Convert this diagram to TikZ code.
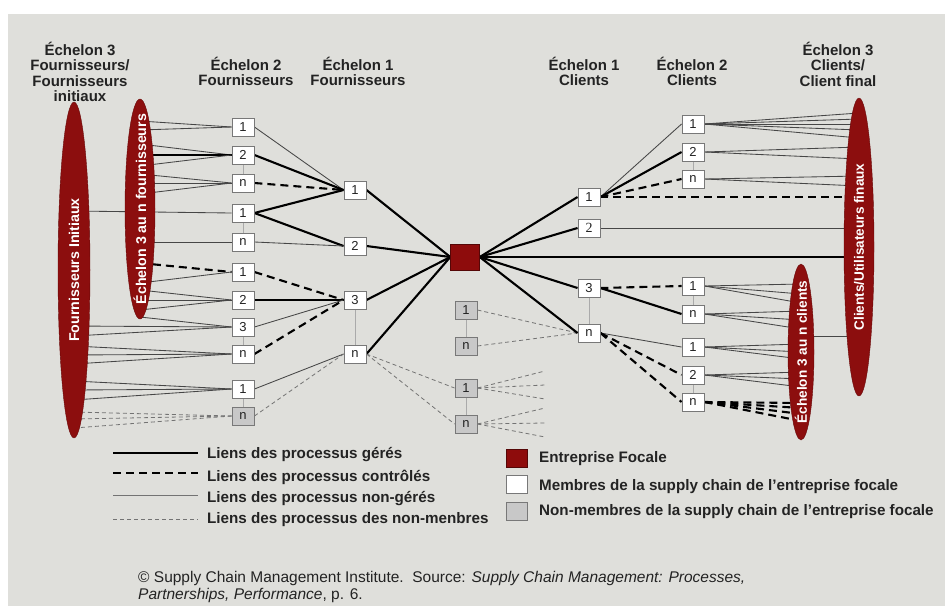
\documentclass[tikz,border=0pt]{standalone}
\usepackage{fontspec}
\setmainfont{Liberation Sans}
\newfontfamily\serifnum{Liberation Serif}
\usetikzlibrary{shapes.geometric}
\pgfdeclarelayer{back}
\pgfdeclarelayer{links}
\pgfsetlayers{back,links,main}
\definecolor{paper}{RGB}{223,223,219}
\definecolor{blobred}{RGB}{140,14,14}
\definecolor{focalred}{RGB}{142,12,12}
\definecolor{boxline}{RGB}{120,120,120}
\definecolor{boxgrey}{RGB}{200,200,200}
\definecolor{thinline}{RGB}{70,70,70}
\definecolor{nmline}{RGB}{115,115,115}
\definecolor{vline}{RGB}{170,170,170}
\definecolor{ink}{RGB}{35,35,35}
\begin{document}
\begin{tikzpicture}[x=1pt,y=-1pt,
  box/.style={draw=boxline, line width=0.9pt, fill=white, minimum width=22pt, minimum height=18pt,
    inner sep=0pt, text=ink, font=\fontsize{13}{13}\selectfont},
  gbox/.style={box, fill=boxgrey},
  managed/.style={line width=2.1pt, black},
  ctrl/.style={line width=2.1pt, black, dash pattern=on 8pt off 5pt},
  unman/.style={line width=0.85pt, thinline},
  nonmem/.style={line width=0.8pt, nmline, dash pattern=on 4pt off 3pt},
  vlink/.style={line width=0.8pt, vline},
  blob/.style={ellipse, fill=blobred, draw=blobred!75!black, inner sep=0pt},
  bloblabel/.style={rotate=90, inner sep=0pt, text=white, font=\bfseries\fontsize{14.2}{14.2}\selectfont},
  head/.style={anchor=north, align=center, inner sep=0pt, text=ink,
    font=\bfseries\fontsize{15}{15.3}\selectfont},
  legtext/.style={anchor=west, inner sep=0pt, text=ink, font=\bfseries\fontsize{15.2}{15.2}\selectfont},
  legbox/.style={draw=boxline, line width=0.9pt, minimum width=21pt, minimum height=18pt, inner sep=0pt}
]
\useasboundingbox (0,0) rectangle (945,606);
\begin{pgfonlayer}{back}
  \fill[white] (0,0) rectangle (945,606);
  \fill[paper] (8,14) rectangle (945,606);
\end{pgfonlayer}

% column headings
\node[head] (h3s) at (80,42)  {Échelon 3\\Fournisseurs/\\Fournisseurs\\initiaux};
\node[head] (h2s) at (246,57) {Échelon 2\\Fournisseurs};
\node[head] (h1s) at (358,57) {Échelon 1\\Fournisseurs};
\node[head] (h1c) at (584,57) {Échelon 1\\Clients};
\node[head] (h2c) at (692,57) {Échelon 2\\Clients};
\node[head] (h3c) at (838,42) {Échelon 3\\Clients/\\Client final};

% tier groups drawn as ellipses, with their labels set on top
\node[blob, minimum width=32pt, minimum height=336pt] (FI) at (74,270)  {};
\node[blob, minimum width=30pt, minimum height=220pt] (E2) at (140,209) {};
\node[blob, minimum width=30pt, minimum height=298pt] (RE) at (859,247) {};
\node[blob, minimum width=26pt, minimum height=176pt] (SE) at (801,352) {};
\node[bloblabel] (FIl) at (FI) {Fournisseurs Initiaux};
\node[bloblabel] (E2l) at (E2) {Échelon 3 au n fournisseurs};
\node[bloblabel, font=\bfseries\fontsize{13.6}{13.6}\selectfont] (REl) at (RE) {Clients/Utilisateurs finaux};
\node[bloblabel, font=\bfseries\fontsize{13.6}{13.6}\selectfont] (SEl) at (SE) {Échelon 3 au n clients};

% second-tier suppliers
\node[box] (s2a1) at (243,127) {1};
\node[box] (s2a2) at (243,155) {2};
\node[box] (s2an) at (243,183) {n};
\node[box] (s2b1) at (243,213) {1};
\node[box] (s2bn) at (243,242) {n};
\node[box] (s2c1) at (243,272) {1};
\node[box] (s2c2) at (243,300) {2};
\node[box] (s2c3) at (243,327) {3};
\node[box] (s2cn) at (243,354) {n};
\node[box] (s2d1) at (243,389) {1};
\node[gbox] (s2dn) at (243,416) {n};

% first-tier suppliers
\node[box] (s1a) at (355,190) {1};
\node[box] (s1b) at (355,246) {2};
\node[box] (s1c) at (355,300) {3};
\node[box] (s1n) at (355,354) {n};

% focal company
\node[draw=focalred!60!black, fill=focalred, minimum width=29pt, minimum height=26pt, inner sep=0pt] (F) at (465,257) {};

% non-members
\node[gbox] (g1) at (466,310) {1};
\node[gbox] (g2) at (466,346) {n};
\node[gbox] (g3) at (466,388) {1};
\node[gbox] (g4) at (466,424) {n};

% first-tier customers
\node[box] (c1a) at (589,197) {1};
\node[box, font=\serifnum\fontsize{14}{14}\selectfont] (c1b) at (589,228) {2};
\node[box] (c1c) at (589,288) {3};
\node[box] (c1n) at (589,333) {n};

% second-tier customers
\node[box] (c2a1) at (693,124) {1};
\node[box] (c2a2) at (693,152) {2};
\node[box] (c2an) at (693,179) {n};
\node[box] (c2b1) at (693,286) {1};
\node[box] (c2bn) at (693,314) {n};
\node[box] (c2c1) at (693,347) {1};
\node[box] (c2c2) at (693,375) {2};
\node[box] (c2cn) at (693,402) {n};

% loose ends of the non-member links
\coordinate (f31) at (545,371);
\coordinate (f32) at (545,385);
\coordinate (f33) at (545,399);
\coordinate (f41) at (545,408);
\coordinate (f42) at (545,423);
\coordinate (f43) at (545,437);

\begin{pgfonlayer}{links}
  % column rails
  \draw[vlink] (s2a2) -- (s2an);
  \draw[vlink] (s2b1) -- (s2bn);
  \draw[vlink] (s2c3) -- (s2cn);
  \draw[vlink] (s2d1) -- (s2dn);
  \draw[vlink] (s1c) -- (s1n);
  \draw[vlink] (g1) -- (g2);
  \draw[vlink] (g3) -- (g4);
  \draw[vlink] (c1c) -- (c1n);
  \draw[vlink] (c2a2) -- (c2an);
  \draw[vlink] (c2b1) -- (c2bn);
  \draw[vlink] (c2c2) -- (c2cn);

  % tier 3..n suppliers to tier 2
  \draw[unman] (E2.center |- 0,121) -- (s2a1.west);
  \draw[unman] (E2.center |- 0,130) -- (s2a1.west);
  \draw[unman] (E2.center |- 0,144) -- (s2a2.west);
  \draw[managed] (E2.center |- 0,155) -- (s2a2.west);
  \draw[unman] (E2.center |- 0,166) -- (s2a2.west);
  \draw[unman] (E2.center |- 0,174) -- (s2an.west);
  \draw[unman] (E2.center |- 0,183) -- (s2an.west);
  \draw[unman] (E2.center |- 0,194) -- (s2an.west);
  \draw[unman] (FI.center |- 0,211) -- (s2b1.west);
  \draw[unman] (E2.center |- 0,242) -- (s2bn.west);
  \draw[ctrl]  (E2.center |- 0,263) -- (s2c1.west);
  \draw[unman] (E2.center |- 0,283) -- (s2c1.west);
  \draw[unman] (E2.center |- 0,290) -- (s2c2.west);
  \draw[unman] (E2.center |- 0,300) -- (s2c2.west);
  \draw[unman] (E2.center |- 0,310) -- (s2c2.west);
  \draw[unman] (E2.center |- 0,317) -- (s2c3.west);
  \draw[unman] (FI.center |- 0,326) -- (s2c3.west);
  \draw[unman] (FI.center |- 0,336) -- (s2c3.west);
  \draw[unman] (FI.center |- 0,346) -- (s2cn.west);
  \draw[unman] (FI.center |- 0,355) -- (s2cn.west);
  \draw[unman] (FI.center |- 0,364) -- (s2cn.west);
  \draw[unman] (FI.center |- 0,381) -- (s2d1.west);
  \draw[unman] (FI.center |- 0,390) -- (s2d1.west);
  \draw[unman] (FI.center |- 0,400) -- (s2d1.west);
  \draw[nonmem] (FI.center |- 0,412) -- (s2dn.west);
  \draw[nonmem] (FI.center |- 0,419) -- (s2dn.west);
  \draw[nonmem] (FI.center |- 0,428) -- (s2dn.west);

  % tier 2 to tier 1 suppliers
  \draw[unman]   (s2a1.east) -- (s1a.west);
  \draw[managed] (s2a2.east) -- (s1a.west);
  \draw[ctrl]    (s2an.east) -- (s1a.west);
  \draw[managed] (s2b1.east) -- (s1a.west);
  \draw[managed] (s2b1.east) -- (s1b.west);
  \draw[unman]   (s2bn.east) -- (s1b.west);
  \draw[ctrl]    (s2c1.east) -- (s1c.west);
  \draw[managed] (s2c2.east) -- (s1c.west);
  \draw[unman]   (s2c3.east) -- (s1c.west);
  \draw[ctrl]    (s2cn.east) -- (s1c.west);
  \draw[unman]   (s2d1.east) -- (s1n.west);
  \draw[nonmem]  (s2dn.east) -- (s1n.west);

  % tier 1 suppliers to the focal company
  \draw[managed] (s1a.east) -- (F.west);
  \draw[managed] (s1b.east) -- (F.west);
  \draw[managed] (s1c.east) -- (F.west);
  \draw[managed] (s1n.east) -- (F.west);

  % non-member links
  \draw[nonmem] (s1n.east) -- (g3.west);
  \draw[nonmem] (s1n.east) -- (g4.west);
  \draw[nonmem] (g1.east) -- (c1n.west);
  \draw[nonmem] (g2.east) -- (c1n.west);
  \draw[nonmem] (g3.east) -- (f31);
  \draw[nonmem] (g3.east) -- (f32);
  \draw[nonmem] (g3.east) -- (f33);
  \draw[nonmem] (g4.east) -- (f41);
  \draw[nonmem] (g4.east) -- (f42);
  \draw[nonmem] (g4.east) -- (f43);

  % focal company to tier 1 customers
  \draw[managed] (F.east) -- (c1a.west);
  \draw[managed] (F.east) -- (c1b.west);
  \draw[managed] (F.east) -- (c1c.west);
  \draw[managed] (F.east) -- (c1n.west);
  \draw[managed] (F.east) -- (RE.center |- F.east);

  % tier 1 to tier 2 customers
  \draw[unman]   (c1a.east) -- (c2a1.west);
  \draw[managed] (c1a.east) -- (c2a2.west);
  \draw[ctrl]    (c1a.east) -- (c2an.west);
  \draw[ctrl]    (c1a.east) -- (RE.center |- c1a.east);
  \draw[unman]   (c1b.east) -- (RE.center |- c1b.east);
  \draw[ctrl]    (c1c.east) -- (c2b1.west);
  \draw[managed] (c1c.east) -- (c2bn.west);
  \draw[unman]   (c1n.east) -- (c2c1.west);
  \draw[ctrl]    (c1n.east) -- (c2c2.west);
  \draw[ctrl]    (c1n.east) -- (c2cn.west);

  % tier 2 customers to end users
  \draw[unman] (c2a1.east) -- (RE.center |- 0,113);
  \draw[unman] (c2a1.east) -- (RE.center |- 0,119);
  \draw[unman] (c2a1.east) -- (RE.center |- 0,124);
  \draw[unman] (c2a1.east) -- (RE.center |- 0,130);
  \draw[unman] (c2a1.east) -- (RE.center |- 0,138);
  \draw[unman] (c2a2.east) -- (RE.center |- 0,147);
  \draw[unman] (c2a2.east) -- (RE.center |- 0,159);
  \draw[unman] (c2an.east) -- (RE.center |- 0,176);
  \draw[unman] (c2an.east) -- (RE.center |- 0,186);

  % tier 2 customers to tier 3..n customers
  \draw[unman] (c2b1.east) -- (SE.center |- 0,284);
  \draw[unman] (c2b1.east) -- (SE.center |- 0,294);
  \draw[unman] (c2b1.east) -- (SE.center |- 0,303);
  \draw[unman] (c2bn.east) -- (SE.center |- 0,311);
  \draw[unman] (c2bn.east) -- (SE.center |- 0,320);
  \draw[unman] (c2bn.east) -- (SE.center |- 0,329);
  \draw[unman] (c2c1.east) -- (SE.center |- 0,344);
  \draw[unman] (c2c1.east) -- (SE.center |- 0,352);
  \draw[unman] (c2c1.east) -- (SE.center |- 0,359);
  \draw[unman] (c2c2.east) -- (SE.center |- 0,372);
  \draw[unman] (c2c2.east) -- (SE.center |- 0,379);
  \draw[unman] (c2c2.east) -- (SE.center |- 0,387);
  \draw[ctrl]  (c2cn.east) -- (SE.center |- 0,403);
  \draw[ctrl]  (c2cn.east) -- (SE.center |- 0,408);
  \draw[ctrl]  (c2cn.east) -- (SE.center |- 0,414);
  \draw[ctrl]  (c2cn.east) -- (SE.center |- 0,421);
  \draw[unman] (SE.center |- 0,336) -- (RE.center |- 0,336);
\end{pgfonlayer}

% legend: link types
\draw[managed] (113,453) -- (198,453);
\draw[ctrl]    (113,473) -- (198,473);
\draw[unman, nmline]   (113,495) -- (198,495);
\draw[nonmem]  (113,519) -- (198,519);
\node[legtext] (l1) at (207,455) {Liens des processus gérés};
\node[legtext] (l2) at (207,477) {Liens des processus contrôlés};
\node[legtext] (l3) at (207,499) {Liens des processus non-gérés};
\node[legtext] (l4) at (207,520) {Liens des processus des non-menbres};

% legend: member types
\node[legbox, fill=focalred, draw=focalred!60!black] (k1) at (516.5,458) {};
\node[legbox, fill=white] (k2) at (516.5,484.5) {};
\node[legbox, fill=boxgrey] (k3) at (516.5,511) {};
\node[legtext] (t1) at (539,459) {Entreprise Focale};
\node[legtext] (t2) at (539,487) {Membres de la supply chain de l’entreprise focale};
\node[legtext] (t3) at (539,512) {Non-membres de la supply chain de l’entreprise focale};

% source line
\node[anchor=north west, align=left, inner sep=0pt, text=ink, font=\fontsize{15.5}{17}\selectfont] (src) at (138,571)
  {\textcopyright\ Supply Chain Management Institute.\ \ Source: \textit{Supply Chain Management: Processes,}\\
   \textit{Partnerships, Performance}, p. 6.};
\end{tikzpicture}
\end{document}
